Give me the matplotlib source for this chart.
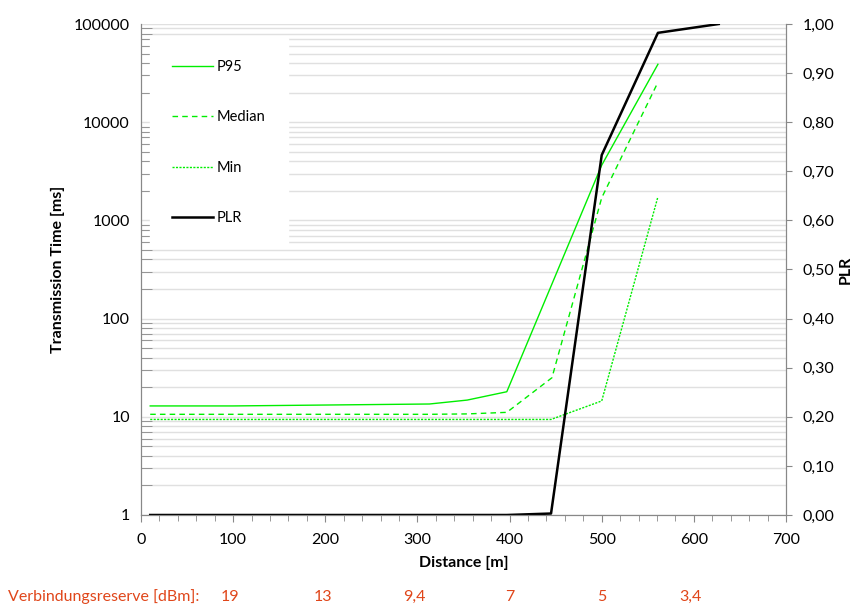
import matplotlib.pyplot as plt
import matplotlib.ticker as mticker
import numpy as np

plt.rcParams['font.family'] = ['Lato', 'DejaVu Sans']

# transmission time series [ms]
p95_dist = [10, 100, 313, 354, 397, 500, 561]
p95_time = [12.9, 12.9, 13.5, 14.8, 18.0, 3650, 38900]

median_dist = [10, 100, 313, 354, 397, 446, 500, 561]
median_time = [10.6, 10.6, 10.6, 10.7, 11.1, 25.0, 1700, 25500]

min_dist = [10, 100, 313, 397, 445, 500, 561]
min_time = [9.4, 9.4, 9.4, 9.4, 9.4, 14.5, 1740]

# packet loss rate
plr_dist = [10, 100, 313, 397, 445, 500, 561, 627]
plr_value = [0.0, 0.0, 0.0, 0.0, 0.003, 0.733, 0.982, 1.0]

# link budget labels under the x axis
reserve_pos = [97, 197, 297, 400, 500, 596]
reserve_labels = ["19", "13", "9,4", "7", "5", "3,4"]

green = "#00ee00"
grid_col = "#e0e0e0"
axis_col = "#888888"

fig = plt.figure(figsize=(8.59, 6.08), dpi=100)
ax = fig.add_axes([141 / 859, 1 - 515 / 608, 645 / 859, 491 / 608])
ax2 = ax.twinx()

ax.plot(p95_dist, p95_time, color=green, lw=1.0, label="P95")
ax.plot(median_dist, median_time, color=green, lw=1.0, ls=(0, (4, 3)), label="Median")
ax.plot(min_dist, min_time, color=green, lw=1.0, ls=(0, (1.5, 1)), label="Min")
ax2.plot(plr_dist, plr_value, color="black", lw=1.8, label="PLR")

ax.set_yscale("log")
ax.set_ylim(1, 100000)
ax.set_xlim(0, 700)
ax2.set_ylim(0, 1)

ax.yaxis.set_major_locator(mticker.LogLocator(base=10, numticks=10))
ax.yaxis.set_major_formatter(mticker.FuncFormatter(lambda v, p: "%d" % v))
ax.yaxis.set_minor_locator(mticker.LogLocator(base=10, subs=np.arange(2, 10), numticks=20))
ax.yaxis.set_minor_formatter(mticker.NullFormatter())
ax.grid(True, which="both", axis="y", color=grid_col, lw=1.0)
ax.set_axisbelow(True)

ax.xaxis.set_major_locator(mticker.MultipleLocator(100))
ax.xaxis.set_minor_locator(mticker.MultipleLocator(20))
ax.tick_params(axis="x", which="major", direction="out", length=5, color=axis_col, labelsize=11.5, pad=8)
ax.tick_params(axis="x", which="minor", direction="out", length=4, color=axis_col)
ax.tick_params(axis="y", which="major", direction="in", length=0, labelsize=11.5, pad=8)
ax.tick_params(axis="y", which="minor", direction="in", length=8, color=axis_col)

ax2.yaxis.set_major_locator(mticker.MultipleLocator(0.1))
ax2.yaxis.set_major_formatter(mticker.FuncFormatter(lambda v, p: ("%.2f" % v).replace(".", ",")))
ax2.tick_params(axis="y", direction="out", length=4, color=axis_col, labelsize=11.5, pad=8)

for a in (ax, ax2):
    a.spines["top"].set_visible(False)
    for s in ("left", "right", "bottom"):
        a.spines[s].set_color(axis_col)

ax.set_xlabel("Distance [m]", fontweight="bold", fontsize=11.5, labelpad=6)
ax.set_ylabel("Transmission Time [ms]", fontweight="bold", fontsize=11.5, labelpad=6)
ax2.set_ylabel("PLR", fontweight="bold", fontsize=11.5, labelpad=3)

handles = ax.get_lines() + ax2.get_lines()
leg = ax2.legend(handles, [h.get_label() for h in handles], loc="upper left",
                 bbox_to_anchor=(9 / 645, 1 - 14 / 491), frameon=True, fontsize=10.5,
                 labelspacing=2.5, handlelength=2.8, handletextpad=0.3,
                 borderpad=1.5, borderaxespad=0, fancybox=False)
leg.get_frame().set_edgecolor("white")
leg.get_frame().set_facecolor("white")
leg.get_frame().set_alpha(1)

orange = "#e0461a"
fig.text(8 / 859, 1 - 597 / 608, "Verbindungsreserve [dBm]:", color=orange, fontsize=11.5, va="center")
for pos, lab in zip(reserve_pos, reserve_labels):
    x = (141 + pos * 645 / 700) / 859
    fig.text(x, 1 - 597 / 608, lab, color=orange, fontsize=11.5, va="center", ha="center")

fig.savefig("out.png", dpi=100)
